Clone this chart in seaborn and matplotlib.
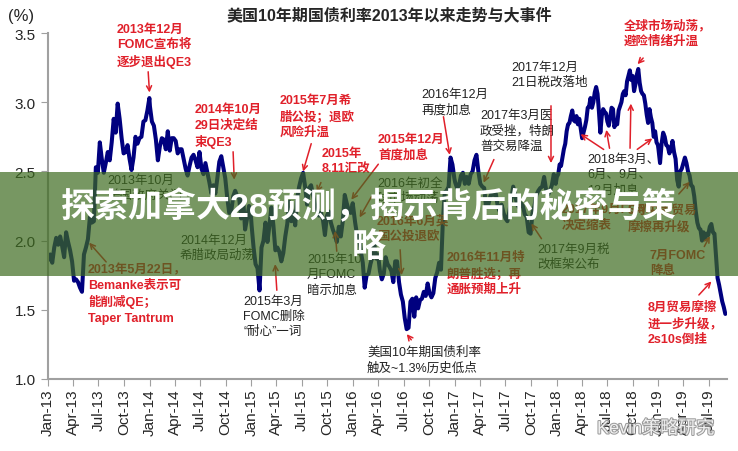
import numpy as np
import pandas as pd
import matplotlib
matplotlib.use("Agg")
import matplotlib.pyplot as plt
import matplotlib.dates as mdates
import matplotlib.patheffects as pe
from matplotlib.patches import Rectangle
import seaborn as sns

# US 10Y yield (%), roughly weekly
y2013 = [1.86, 1.90, 1.84, 1.95, 2.02, 1.97, 2.03, 1.96, 1.88, 2.06, 1.99, 1.93, 1.85,
         1.71, 1.72, 1.70, 1.66, 1.63, 1.90, 1.95, 2.01, 2.17, 2.13, 2.14, 2.53, 2.49,
         2.71, 2.59, 2.49, 2.56, 2.64, 2.58, 2.71, 2.88, 2.78, 2.99, 2.88, 2.74, 2.63,
         2.64, 2.69, 2.59, 2.51, 2.60, 2.75, 2.70, 2.74, 2.75, 2.86, 2.87, 2.94, 3.03]
y2014 = [2.97, 2.86, 2.83, 2.73, 2.58, 2.68, 2.74, 2.73, 2.66, 2.79, 2.65, 2.74, 2.74,
         2.72, 2.63, 2.66, 2.66, 2.59, 2.52, 2.47, 2.54, 2.60, 2.62, 2.58, 2.53, 2.64,
         2.52, 2.48, 2.56, 2.49, 2.42, 2.34, 2.40, 2.34, 2.45, 2.57, 2.61, 2.53, 2.45,
         2.31, 2.20, 2.21, 2.32, 2.36, 2.32, 2.31, 2.16, 2.31, 2.08, 2.16, 2.25, 2.17]
y2015 = [2.11, 1.95, 1.83, 1.80, 1.64, 1.95, 2.00, 2.13, 1.99, 2.11, 2.24, 2.11, 1.93,
         1.95, 1.92, 1.85, 1.91, 2.03, 2.12, 2.28, 2.14, 2.21, 2.11, 2.31, 2.39, 2.45,
         2.49, 2.39, 2.26, 2.38, 2.40, 2.33, 2.26, 2.23, 2.18, 2.20, 2.15, 2.04, 2.18,
         2.21, 2.13, 2.08, 2.04, 1.99, 2.10, 2.03, 2.14, 2.33, 2.27, 2.22, 2.20, 2.27]
y2016 = [2.24, 2.13, 2.04, 2.03, 1.92, 1.84, 1.66, 1.75, 1.76, 1.83, 1.88, 1.98, 1.87,
         1.90, 1.78, 1.72, 1.76, 1.88, 1.83, 1.81, 1.78, 1.70, 1.85, 1.85, 1.70, 1.61,
         1.56, 1.44, 1.36, 1.37, 1.56, 1.58, 1.45, 1.59, 1.51, 1.57, 1.58, 1.63, 1.60,
         1.69, 1.62, 1.59, 1.62, 1.73, 1.77, 1.84, 1.79, 2.15, 2.35, 2.36, 2.39, 2.60,
         2.55, 2.45]
y2017 = [2.42, 2.38, 2.40, 2.47, 2.49, 2.41, 2.46, 2.41, 2.48, 2.50, 2.58, 2.62, 2.50,
         2.41, 2.39, 2.38, 2.24, 2.25, 2.31, 2.35, 2.33, 2.34, 2.25, 2.21, 2.26, 2.20,
         2.16, 2.14, 2.21, 2.30, 2.39, 2.33, 2.26, 2.24, 2.27, 2.25, 2.19, 2.17, 2.06,
         2.05, 2.20, 2.25, 2.33, 2.36, 2.38, 2.39, 2.46, 2.37, 2.33, 2.36, 2.40, 2.48,
         2.41]
y2018 = [2.46, 2.48, 2.55, 2.54, 2.60, 2.66, 2.70, 2.79, 2.84, 2.85, 2.90, 2.94, 2.87,
         2.86, 2.90, 2.84, 2.88, 2.81, 2.74, 2.78, 2.82, 2.87, 2.96, 2.97, 3.03, 2.96,
         3.00, 3.07, 3.11, 3.06, 2.93, 2.78, 2.90, 2.95, 2.93, 2.92, 2.86, 2.83, 2.89,
         2.96, 2.95, 2.82, 2.86, 2.84, 2.94, 2.97, 3.00, 3.06, 3.08, 3.05, 3.15, 3.19,
         3.23, 3.16, 3.19, 3.08, 3.13, 3.20, 3.24, 3.14, 3.08, 3.06, 3.05, 2.99, 2.91,
         2.85, 2.95, 2.89, 2.85, 2.75, 2.79, 2.71, 2.69]
y2019 = [2.66, 2.56, 2.70, 2.78, 2.75, 2.69, 2.68, 2.63, 2.66, 2.72, 2.64, 2.59, 2.44,
         2.39, 2.50, 2.52, 2.56, 2.60, 2.56, 2.50, 2.47, 2.40, 2.39, 2.32, 2.21, 2.13,
         2.09, 2.08, 2.00, 2.06, 2.01, 2.05, 2.04, 2.10, 2.12, 2.06, 2.05, 1.89, 1.73,
         1.68, 1.62, 1.56, 1.52, 1.47]

years = [(2013, y2013, "2013-12-31"), (2014, y2014, "2014-12-31"),
         (2015, y2015, "2015-12-31"), (2016, y2016, "2016-12-30"),
         (2017, y2017, "2017-12-29"), (2018, y2018, "2018-12-31"),
         (2019, y2019, "2019-08-30")]
frames = []
for yr, vals, end in years:
    d = pd.date_range(f"{yr}-01-02", end, periods=len(vals))
    frames.append(pd.DataFrame({"date": d, "yield": vals}))
df = pd.concat(frames, ignore_index=True)

sns.set_style("ticks")
plt.rcParams["font.family"] = ["Liberation Sans", "Noto Sans CJK SC", "DejaVu Sans"]

W, H = 738, 452
fig = plt.figure(figsize=(W / 100, H / 100), dpi=100)
ax = fig.add_axes([48 / W, 1 - 380 / H, 679 / W, 346 / H])
sns.lineplot(data=df, x="date", y="yield", color="#00007f", linewidth=2.9, ax=ax)

ax.set_xlim(pd.Timestamp("2013-01-01"), pd.Timestamp("2019-09-05"))
ax.set_ylim(1.0, 3.5)
ax.set_yticks([1.0, 1.5, 2.0, 2.5, 3.0, 3.5])
ax.yaxis.set_major_formatter(plt.FormatStrFormatter("%.1f"))
ax.set_xticks(pd.date_range("2013-01-01", "2019-07-01", freq="QS"))
ax.xaxis.set_major_formatter(mdates.DateFormatter("%b-%y"))
ax.tick_params(axis="x", labelrotation=90, labelsize=11, length=5, color="#a0a0a0", pad=2)
ax.tick_params(axis="y", labelsize=11, length=5, color="#a0a0a0", pad=4)
ax.set_xlabel("")
ax.set_ylabel("")
for s in ["top", "right"]:
    ax.spines[s].set_visible(False)
for s in ["left", "bottom"]:
    ax.spines[s].set_color("#a0a0a0")
    ax.spines[s].set_linewidth(1.5)

fig.text(8 / W, 1 - 16 / H, "(%)", fontsize=12, va="center")
fig.text(389 / W, 1 - 15 / H, "美国10年期国债利率2013年以来走势与大事件",
         fontsize=11.5, fontweight="bold", ha="center", va="center")

RED = "#e0202a"
DARK = "#222222"

def px(x, y):
    return (x, H - y)

# (text, color, bold, text left px, first-line centre px)
notes = [
    ("2013年12月\nFOMC宣布将\n逐步退出QE3", RED, True, 117, 32),
    ("2014年10月\n29日决定结\n束QE3", RED, True, 195, 112),
    ("2015年7月希\n腊公投；退欧\n风险升温", RED, True, 280, 103),
    ("2015年\n8.11汇改", RED, True, 322, 156),
    ("2015年12月\n首度加息", RED, True, 378, 142),
    ("2016年12月\n再度加息", DARK, False, 421, 97),
    ("2017年3月医\n政受挫，特朗\n普交易降温", DARK, False, 480, 118),
    ("2017年12月\n21日税改落地", DARK, False, 511, 70),
    ("全球市场动荡，\n避险情绪升温", RED, True, 624, 28),
    ("2018年3月、\n6月、9月、\n12月加息", DARK, False, 587, 162),
    ("2017年9月FOMC\n决定缩表", RED, True, 562, 212),
    ("5月中美贸易\n摩擦再升级", RED, True, 628, 213),
    ("7月FOMC\n降息", RED, True, 650, 258),
    ("8月贸易摩擦\n进一步升级，\n2s10s倒挂", RED, True, 648, 310),
    ("2017年9月税\n改框架公布", DARK, False, 537, 252),
    ("2016年11月特\n朗普胜选；再\n通胀预期上升", RED, True, 447, 260),
    ("美国10年期国债利率\n触及~1.3%历史低点", DARK, False, 367, 355),
    ("2016年6月英\n国公投退欧", RED, True, 377, 223),
    ("2016年初全\n球市场动荡", DARK, False, 377, 186),
    ("2015年10\n月FOMC\n暗示加息", DARK, False, 307, 262),
    ("2015年3月\nFOMC删除\n“耐心”一词", DARK, False, 243, 304),
    ("2014年12月\n希腊政局动荡", DARK, False, 180, 243),
    ("2013年10月\n美国政府关门", DARK, False, 107, 183),
    ("2013年5月22日，\nBemanke表示可\n能削减QE；\nTaper Tantrum", RED, True, 88, 272),
]
for txt, col, bold, x0, y0 in notes:
    ax.text(x0 / W, 1 - (y0 - 8) / H, txt, transform=fig.transFigure, color=col,
            fontsize=9, fontweight="bold" if bold else "normal",
            ha="left", va="top", linespacing=1.35)

# arrows: tail in figure pixels, tip on the data
arrows = [
    ((148, 70), ("2014-01-01", 3.05)),
    ((233, 150), ("2014-11-01", 2.42)),
    ((312, 142), ("2015-07-03", 2.48)),
    ((322, 181), ("2015-08-20", 2.33)),
    ((380, 163), ("2015-12-20", 2.28)),
    ((373, 195), ("2016-01-20", 2.15)),
    ((400, 248), ("2016-06-24", 1.73)),
    ((413, 343), ("2016-07-06", 1.34)),
    ((443, 115), ("2016-12-15", 2.60)),
    ((495, 158), ("2017-04-10", 2.40)),
    ((551, 104), ("2017-12-12", 2.54)),
    ((543, 242), ("2017-09-27", 2.14)),
    ((645, 57), ("2018-10-12", 3.26)),
    ((606, 152), ("2018-03-20", 2.78)),
    ((610, 152), ("2018-06-27", 2.82)),
    ((630, 152), ("2018-09-25", 3.01)),
    ((635, 152), ("2018-12-19", 2.75)),
    ((677, 197), ("2019-05-01", 2.44)),
    ((703, 250), ("2019-07-10", 2.05)),
    ((697, 298), ("2019-07-18", 1.72)),
    ((337, 255), ("2015-10-28", 2.09)),
    ((277, 294), ("2015-03-27", 1.85)),
    ((108, 265), ("2013-05-22", 2.00)),
]
for (tx, ty), (d, v) in arrows:
    ax.annotate("", xy=(mdates.date2num(pd.Timestamp(d)), v), xycoords="data",
                xytext=px(tx, ty), textcoords="figure pixels",
                arrowprops=dict(arrowstyle="->", color=RED, lw=1.1, mutation_scale=9),
                annotation_clip=False)

# overlay banner
fig.add_artist(Rectangle((0, 1 - 277 / H), 1, 104 / H, transform=fig.transFigure,
                         facecolor="#3d6b1f", alpha=0.7, edgecolor="none", zorder=5))
fig.text(0.5, 1 - 207 / H, "探索加拿大28预测，揭示背后的秘密与策", color="white",
         fontsize=24.5, fontweight="bold", ha="center", va="center", zorder=6)
fig.text(0.5, 1 - 248 / H, "略", color="white",
         fontsize=24.5, fontweight="bold", ha="center", va="center", zorder=6)

fig.text(597 / W, 1 - 430 / H, "Kevin策略研究", fontsize=13, color="white", alpha=0.85,
         va="center", zorder=6,
         path_effects=[pe.withStroke(linewidth=1.5, foreground="#8a8a8a")])

fig.savefig("out.png", dpi=100)
